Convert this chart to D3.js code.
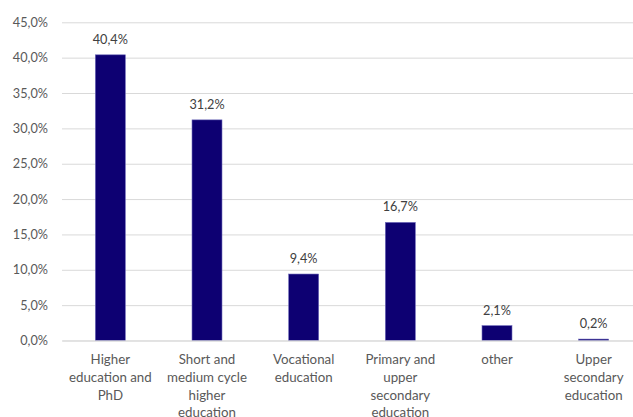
<!DOCTYPE html>
<html>
<head>
<meta charset="utf-8">
<script src="https://cdn.jsdelivr.net/npm/d3@7"></script>
<style>
  html, body { margin: 0; padding: 0; background: #fff; }
  svg { display: block; font-family: Lato, "Open Sans", sans-serif; }
</style>
</head>
<body>
<svg id="chart" width="633" height="417"></svg>
<script>
// Share of respondents by level of education
const categories = [
  "Higher\neducation and\nPhD",
  "Short and\nmedium cycle\nhigher\neducation",
  "Vocational\neducation",
  "Primary and\nupper\nsecondary\neducation",
  "other",
  "Upper\nsecondary\neducation"
];
const shares = [40.4, 31.2, 9.4, 16.7, 2.1, 0.2];
const yTicks = [0, 5, 10, 15, 20, 25, 30, 35, 40, 45];

const svg = d3.select("#chart");
const plotLeft = 62, plotRight = 642, plotTop = 22.3, plotBottom = 340.5;

const locale = d3.formatLocale({ decimal: ",", thousands: ".", grouping: [3], currency: ["", "€"] });
const fmt = locale.format(".1f");

const x = d3.scaleBand().domain(categories).range([plotLeft, plotRight]).paddingInner(0.69).paddingOuter(0.345);
const y = d3.scaleLinear().domain([0, 45]).range([plotBottom, plotTop]);

// gridlines and tick labels
const yAxis = d3.axisLeft(y).tickValues(yTicks).tickSize(-(plotRight - plotLeft)).tickFormat(d => fmt(d) + "%").tickPadding(14);
const gy = svg.append("g").attr("transform", `translate(${plotLeft},0)`).call(yAxis);
gy.select(".domain").remove();
gy.selectAll(".tick line").attr("stroke", "#d9d9d9").attr("stroke-width", 1);
gy.selectAll(".tick text").attr("fill", "#595959").attr("font-size", 12.7)
  .attr("font-family", "Lato, 'Open Sans', sans-serif");

// bars
svg.append("g").selectAll("rect").data(shares).join("rect")
  .attr("x", (d, i) => x(categories[i]))
  .attr("width", x.bandwidth())
  .attr("y", d => y(d))
  .attr("height", d => plotBottom - y(d))
  .attr("fill", "#0d0072")
  .attr("stroke", "#6b66b8")
  .attr("stroke-width", 0.6);

// category axis
const xAxis = d3.axisBottom(x).tickSize(0).tickFormat("");
const gx = svg.append("g").attr("transform", `translate(0,${plotBottom})`).call(xAxis);
gx.select(".domain").attr("stroke", "#d9d9d9");

// value labels
svg.append("g").selectAll("text").data(shares).join("text")
  .attr("x", (d, i) => x(categories[i]) + x.bandwidth() / 2)
  .attr("y", d => y(d) - 11)
  .attr("text-anchor", "middle")
  .attr("font-size", 12.7)
  .attr("fill", "#404040")
  .text(d => fmt(d) + "%");

// wrapped category labels
const lab = svg.append("g").selectAll("text").data(categories).join("text")
  .attr("text-anchor", "middle")
  .attr("font-size", 13.3)
  .attr("fill", "#595959")
  .attr("x", d => x(d) + x.bandwidth() / 2)
  .attr("y", 364);
lab.selectAll("tspan").data(d => d.split("\n").map(t => ({ t, c: d }))).join("tspan")
  .attr("x", d => x(d.c) + x.bandwidth() / 2)
  .attr("dy", (d, i) => i === 0 ? 0 : 17.8)
  .text(d => d.t);
</script>
</body>
</html>
